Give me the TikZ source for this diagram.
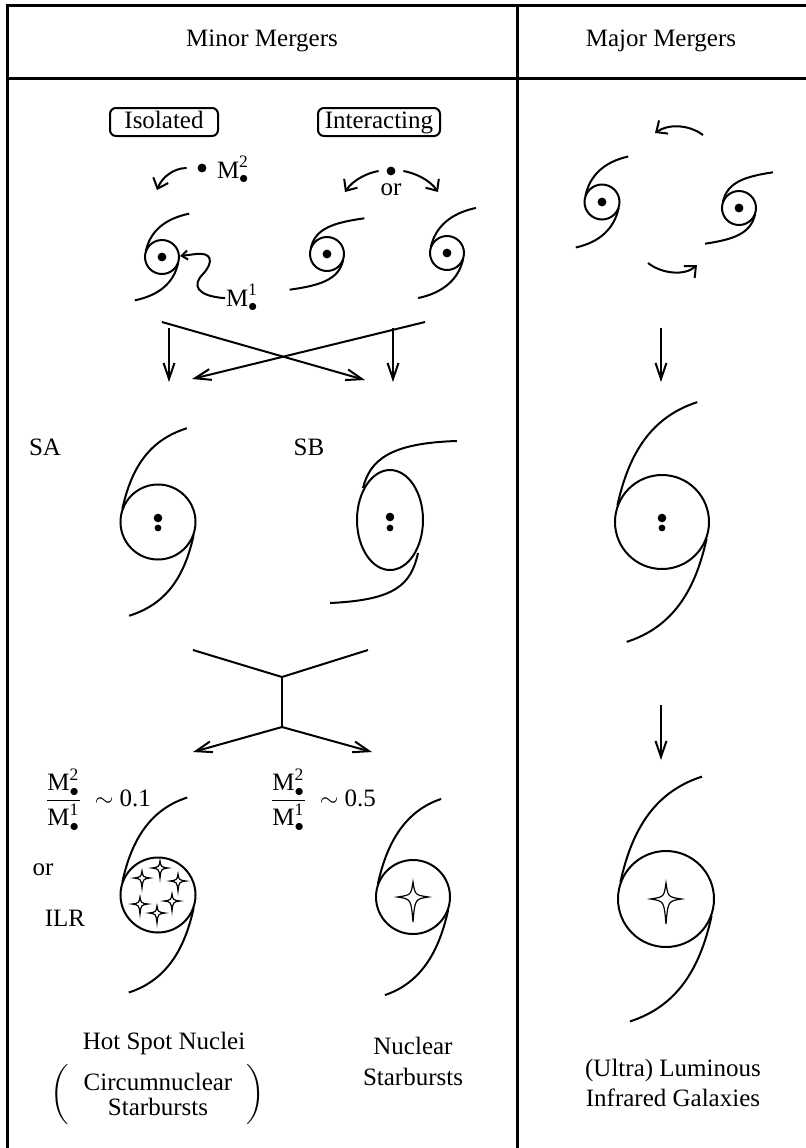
\documentclass[tikz,border=0pt]{standalone}
\usepackage{amsmath, amssymb}
\usepackage{fontspec}
\setmainfont{Liberation Serif}
\usepackage{tikz}
\usetikzlibrary{
  arrows.meta,%
  positioning,%
  calc
}
\tikzset{>={Straight Barb[length=8pt,width=5.5pt]}}
\tikzset{font=\fontsize{12.5}{15}\selectfont}
\tikzset{swirl/.style={->, >={Straight Barb[length=4.5pt,width=8pt]}},
  tag/.style={draw, rounded corners=3pt, inner xsep=1pt, inner ysep=1.5pt,
    text height=8.5pt, text depth=2.5pt},
  frame/.style={line width=1.5pt},
  bh/.style={circle, fill, inner sep=0pt, minimum size=#1},
  bh/.default=4.4pt}
% disc with two spiral arms; radius / arm reach in x / arm reach in y
\tikzset{pics/galaxy/.style args={#1/#2/#3}{code={
  \draw (0,0) circle[radius={#1*0.5pt}];
  \draw (-0.95*#1,-0.35*#1) .. controls (-0.7*#1,-1.5*#1) and ({(0.4*#2-0.5)*#1},{-0.88*#3*#1}) .. ({#2*#1},{-#3*#1});
  \draw (0.95*#1,0.35*#1) .. controls (0.7*#1,1.5*#1) and ({(0.5-0.4*#2)*#1},{0.88*#3*#1}) .. ({-#2*#1},{#3*#1});
}}}
% four pointed starburst; half width / top / bottom
\tikzset{pics/sparkle/.style args={#1/#2/#3}{code={
  \draw[line width=0.6pt, fill=white] (0,-#2) .. controls (0.13*#1,-0.13*#1) .. (#1,0)
    .. controls (0.13*#1,0.13*#1) .. (0,#3)
    .. controls (-0.13*#1,0.13*#1) .. (-#1,0)
    .. controls (-0.13*#1,-0.13*#1) .. (0,-#2) -- cycle;
}}}
\newcommand{\BHmass}[1]{\text{M}^{\text{#1}}_{\bullet}}

\begin{document}
\begin{tikzpicture}[x=0.5pt, y=-0.5pt, line width=1pt]
  \useasboundingbox (0,0) rectangle (806,1148);
  % table
  \draw[frame] (7,1148) -- (7,5) -- (806,5);
  \draw[frame] (7,78) -- (806,78);
  \draw[frame] (517,5) -- (517,1148);
  \node (minor) at (262,41) {Minor Mergers};
  \node (major) at (661,41) {Major Mergers};

  % minor mergers, first row
  \node[tag, minimum width=54pt] (isolated) at (164,122) {Isolated};
  \node[tag, minimum width=61pt] (interacting) at (379,122) {Interacting};

  \node[bh] (mtwodot) at (202,168) {};
  \node[anchor=base west, inner sep=0pt] (mtwo) at (216,178) {$\BHmass{2}$};
  \coordinate (isoTop) at (157,190);
  \draw[swirl] ([xshift=-5pt]mtwodot.west) .. controls (174,168) and (162,177) .. (isoTop);

  \coordinate (iso) at (162,257);
  \pic at (iso) {galaxy=17/1.6/2.55};
  \node[bh] (isonuc) at (iso) {};
  \node[anchor=base west, inner sep=0pt] (mone) at (225,306) {$\BHmass{1}$};
  \coordinate (isoEdge) at (180,256);
  \draw[-{Straight Barb[length=3pt,width=4.5pt]}] (mone.west) .. controls (196,296) and (192,285) .. (203,274)
    .. controls (214,262) and (212,252) .. (196,254) -- (isoEdge);

  \node[bh] (intbh) at (391,171) {};
  \node (orA) at (391,190) {or};
  \coordinate (intAtop) at (345,192);
  \coordinate (intBtop) at (438,192);
  \draw[swirl] ([xshift=-3.5pt]intbh.west) .. controls (367,173) and (353,180) .. (intAtop);
  \draw[swirl] ([xshift=3.5pt]intbh.east) .. controls (415,173) and (430,180) .. (intBtop);

  \coordinate (intA) at (327,254);
  \coordinate (intB) at (447,253);
  \pic at (intA) {galaxy=17/2.2/2.1};
  \pic at (intB) {galaxy=17/1.7/2.65};
  \node[bh] (intAnuc) at (intA) {};
  \node[bh] (intBnuc) at (intB) {};

  % paths to SA and SB
  \coordinate (isoDown) at (169,328);
  \coordinate (saTop) at (169,382);
  \coordinate (intDown) at (393,328);
  \coordinate (sbTop) at (393,382);
  \coordinate (isoCross) at (162,322);
  \coordinate (intCross) at (425,322);
  \coordinate (saSide) at (192,379);
  \coordinate (sbSide) at (365,380);
  \draw[->] (isoDown) -- (saTop);
  \draw[->] (intDown) -- (sbTop);
  \draw[->] (isoCross) -- (sbSide);
  \draw[->] (intCross) -- (saSide);

  % SA and SB
  \node (sa) at (45,447) {SA};
  \node (sb) at (309,447) {SB};
  \coordinate (sacore) at (158,522);
  \pic at (sacore) {galaxy=37.5/0.77/2.5};
  \node[bh=4.3pt] (saone) at ([yshift=2pt]sacore) {};
  \node[bh=3.4pt] (satwo) at ([yshift=-3pt]sacore) {};

  \coordinate (sbcore) at (390,520);
  \draw (sbcore) ellipse[x radius=16.5pt, y radius=25pt];
  \draw (363,488) .. controls (370,460) and (390,443) .. (457,441);
  \draw (418,553) .. controls (411,585) and (395,600) .. (330,603);
  \node[bh=4.3pt] (sbone) at ([yshift=1.5pt]sbcore) {};
  \node[bh=3.4pt] (sbtwo) at ([yshift=-4pt]sbcore) {};

  % split by mass ratio
  \coordinate (ySplitL) at (193,650);
  \coordinate (ySplitR) at (368,650);
  \coordinate (yTop) at (282,677);
  \coordinate (yBot) at (282,727);
  \coordinate (hotTop) at (193,752);
  \coordinate (nucTop) at (372,752);
  \draw (ySplitL) -- (yTop) -- (ySplitR);
  \draw (yTop) -- (yBot);
  \draw[->] (yBot) -- (hotTop);
  \draw[->] (yBot) -- (nucTop);

  \node[anchor=west, inner sep=0pt] (ratioA) at (44,800)
    {$\dfrac{\BHmass{2}}{\BHmass{1}}$\enspace$\sim$ 0.1};
  \node[anchor=west, inner sep=0pt] (ratioB) at (269,800)
    {$\dfrac{\BHmass{2}}{\BHmass{1}}$\enspace$\sim$ 0.5};
  \node (orB) at (43,870) {or};
  \node (ilr) at (65,918) {ILR};

  % hot spots and nuclear starburst
  \coordinate (hotcore) at (158,895);
  \pic at (hotcore) {galaxy=37.5/0.78/2.6};
  \pic at (142,878) {sparkle=8/7/10};
  \pic at (160,868) {sparkle=8/7/10};
  \pic at (178,881) {sparkle=8/7/10};
  \pic at (140,904) {sparkle=8/7/10};
  \pic at (172,901) {sparkle=8/7/10};
  \pic at (157,913) {sparkle=8/7/10};

  \coordinate (nuccore) at (413,897);
  \pic at (nuccore) {galaxy=37/0.76/2.65};
  \pic at (nuccore) {sparkle=15.5/15/25};

  \node (hotspot) at (164,1043) {Hot Spot Nuclei};
  \node[align=center, inner sep=0pt, font=\fontsize{12.5}{12.5}\selectfont] (circum) at (158,1094)
    {Circumnuclear\\Starbursts};
  \node[left=5pt of circum, inner sep=0pt] (parL) {$\left(\vrule height 10pt depth 10pt width 0pt\right.$};
  \node[right=5pt of circum, inner sep=0pt] (parR) {$\left.\vrule height 10pt depth 10pt width 0pt\right)$};
  \node[align=center, font=\fontsize{12.5}{15.5}\selectfont] (nucname) at (413,1061) {Nuclear\\Starbursts};

  % major mergers
  \coordinate (orbitA) at (703,135);
  \coordinate (orbitB) at (655,133);
  \coordinate (orbitC) at (648,263);
  \coordinate (orbitD) at (697,265);
  \draw[swirl] (orbitA) .. controls (688,124) and (668,124) .. (orbitB);
  \draw[swirl] (orbitC) .. controls (662,274) and (685,276) .. (orbitD);

  \coordinate (majA) at (602,202);
  \coordinate (majB) at (739,208);
  \pic at (majA) {galaxy=17.5/1.5/2.6};
  \pic at (majB) {galaxy=17/2.0/2.1};
  \node[bh] (majAnuc) at (majA) {};
  \node[bh] (majBnuc) at (majB) {};

  \coordinate (majDown) at (661,328);
  \coordinate (mergeTop) at (661,382);
  \draw[->] (majDown) -- (mergeTop);

  \coordinate (mergecore) at (662,522);
  \pic at (mergecore) {galaxy=47/0.75/2.55};
  \node[bh=4.3pt] (mergeone) at ([yshift=2pt]mergecore) {};
  \node[bh=3.4pt] (mergetwo) at ([yshift=-3pt]mergecore) {};

  \coordinate (mergeDown) at (661,705);
  \coordinate (ulirgTop) at (661,760);
  \draw[->] (mergeDown) -- (ulirgTop);

  \coordinate (ulirgcore) at (666,899);
  \pic at (ulirgcore) {galaxy=48/0.75/2.55};
  \pic at (ulirgcore) {sparkle=15.5/16/25};

  \node[align=center] (ulirg) at (673,1083) {(Ultra) Luminous\\Infrared Galaxies};
\end{tikzpicture}
\end{document}
